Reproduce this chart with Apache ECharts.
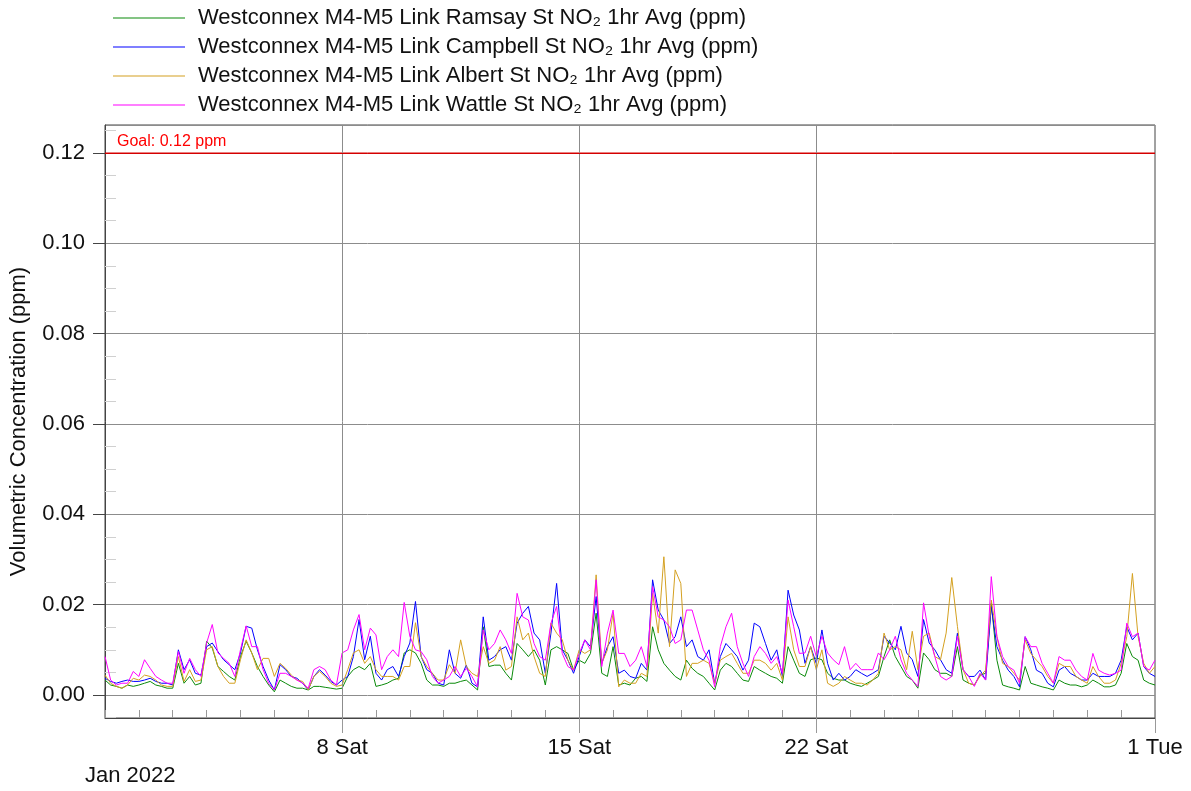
<!DOCTYPE html>
<html>
<head>
<meta charset="utf-8">
<script src="https://cdn.jsdelivr.net/npm/echarts@6/dist/echarts.min.js"></script>
<style>
html,body{margin:0;padding:0;background:#fff}
#chart{width:1191px;height:791px}
</style>
</head>
<body>
<div id="chart"></div>
<script>
// samples every 4 hours from 1 Jan 2022 00:00 to 1 Feb 2022 00:00
var stepHours = 4;
var seriesNames = [
	'Westconnex M4-M5 Link Ramsay St NO\u2082 1hr Avg (ppm)',
	'Westconnex M4-M5 Link Campbell St NO\u2082 1hr Avg (ppm)',
	'Westconnex M4-M5 Link Albert St NO\u2082 1hr Avg (ppm)',
	'Westconnex M4-M5 Link Wattle St NO\u2082 1hr Avg (ppm)'
];
var seriesColors = ['#0a8a0a', '#0000ff', '#d4a020', '#ff00ff'];

var ramsay = [
	0.0033,0.0022,0.0019,0.0015,0.0022,0.0019, 0.0022,0.0026,0.0030,0.0022,0.0019,0.0015,
	0.0015,0.0070,0.0026,0.0041,0.0022,0.0026, 0.0119,0.0104,0.0063,0.0052,0.0041,0.0033,
	0.0085,0.0119,0.0093,0.0063,0.0041,0.0022, 0.0007,0.0033,0.0026,0.0019,0.0015,0.0015,
	0.0011,0.0019,0.0019,0.0017,0.0015,0.0013, 0.0015,0.0041,0.0056,0.0063,0.0056,0.0070,
	0.0019,0.0022,0.0026,0.0033,0.0037,0.0093, 0.0100,0.0093,0.0070,0.0033,0.0022,0.0022,
	0.0019,0.0026,0.0026,0.0030,0.0033,0.0022, 0.0011,0.0151,0.0063,0.0066,0.0066,0.0048,
	0.0033,0.0114,0.0100,0.0085,0.0100,0.0077, 0.0022,0.0100,0.0107,0.0100,0.0092,0.0055,
	0.0077,0.0070,0.0092,0.0181,0.0048,0.0041, 0.0107,0.0022,0.0026,0.0022,0.0037,0.0041,
	0.0030,0.0151,0.0100,0.0070,0.0055,0.0041, 0.0033,0.0077,0.0059,0.0048,0.0041,0.0026,
	0.0011,0.0055,0.0070,0.0063,0.0048,0.0033, 0.0030,0.0063,0.0055,0.0048,0.0041,0.0037,
	0.0026,0.0107,0.0077,0.0048,0.0041,0.0078, 0.0082,0.0078,0.0048,0.0037,0.0033,0.0033,
	0.0026,0.0022,0.0019,0.0026,0.0033,0.0041, 0.0085,0.0122,0.0085,0.0063,0.0041,0.0033,
	0.0015,0.0093,0.0078,0.0056,0.0048,0.0048, 0.0041,0.0107,0.0033,0.0026,0.0022,0.0044,
	0.0048,0.0203,0.0077,0.0022,0.0018,0.0015, 0.0011,0.0063,0.0026,0.0022,0.0018,0.0015,
	0.0011,0.0033,0.0026,0.0022,0.0022,0.0018, 0.0022,0.0033,0.0026,0.0018,0.0018,0.0022,
	0.0048,0.0114,0.0085,0.0077,0.0033,0.0026, 0.0022
];
var campbell = [
	0.0037,0.0030,0.0026,0.0030,0.0033,0.0030, 0.0030,0.0033,0.0037,0.0030,0.0026,0.0026,
	0.0022,0.0100,0.0056,0.0078,0.0048,0.0044, 0.0107,0.0115,0.0096,0.0078,0.0067,0.0056,
	0.0093,0.0152,0.0148,0.0100,0.0063,0.0033, 0.0011,0.0067,0.0056,0.0041,0.0037,0.0026,
	0.0011,0.0041,0.0056,0.0044,0.0030,0.0022, 0.0033,0.0041,0.0085,0.0167,0.0078,0.0130,
	0.0048,0.0033,0.0056,0.0063,0.0041,0.0085, 0.0115,0.0207,0.0085,0.0056,0.0048,0.0026,
	0.0022,0.0100,0.0048,0.0037,0.0066,0.0026, 0.0018,0.0173,0.0077,0.0085,0.0100,0.0107,
	0.0077,0.0159,0.0181,0.0196,0.0137,0.0122, 0.0048,0.0137,0.0247,0.0100,0.0077,0.0048,
	0.0085,0.0122,0.0107,0.0218,0.0070,0.0107, 0.0129,0.0048,0.0055,0.0041,0.0037,0.0070,
	0.0055,0.0255,0.0188,0.0166,0.0114,0.0129, 0.0173,0.0107,0.0122,0.0085,0.0077,0.0100,
	0.0026,0.0085,0.0114,0.0100,0.0085,0.0055, 0.0077,0.0159,0.0151,0.0114,0.0077,0.0100,
	0.0041,0.0232,0.0177,0.0144,0.0070,0.0107, 0.0070,0.0144,0.0070,0.0033,0.0048,0.0033,
	0.0041,0.0056,0.0048,0.0041,0.0048,0.0056, 0.0130,0.0115,0.0100,0.0152,0.0093,0.0078,
	0.0041,0.0167,0.0115,0.0100,0.0078,0.0056, 0.0048,0.0137,0.0056,0.0041,0.0041,0.0055,
	0.0033,0.0196,0.0107,0.0077,0.0055,0.0041, 0.0018,0.0129,0.0100,0.0055,0.0048,0.0026,
	0.0018,0.0055,0.0063,0.0048,0.0041,0.0033, 0.0033,0.0048,0.0041,0.0041,0.0041,0.0048,
	0.0077,0.0151,0.0122,0.0137,0.0063,0.0048, 0.0041
];
var albert = [
	0.0044,0.0026,0.0019,0.0015,0.0022,0.0037, 0.0033,0.0044,0.0041,0.0033,0.0022,0.0019,
	0.0019,0.0085,0.0030,0.0056,0.0030,0.0033, 0.0100,0.0107,0.0063,0.0041,0.0026,0.0026,
	0.0078,0.0122,0.0093,0.0056,0.0081,0.0081, 0.0041,0.0070,0.0059,0.0044,0.0033,0.0030,
	0.0011,0.0041,0.0052,0.0041,0.0026,0.0019, 0.0022,0.0056,0.0093,0.0100,0.0070,0.0085,
	0.0056,0.0041,0.0041,0.0041,0.0033,0.0063, 0.0063,0.0160,0.0085,0.0063,0.0048,0.0033,
	0.0033,0.0067,0.0048,0.0122,0.0063,0.0048, 0.0041,0.0107,0.0070,0.0077,0.0107,0.0055,
	0.0063,0.0173,0.0122,0.0137,0.0085,0.0048, 0.0041,0.0159,0.0137,0.0122,0.0077,0.0055,
	0.0100,0.0092,0.0100,0.0266,0.0070,0.0100, 0.0181,0.0018,0.0033,0.0026,0.0026,0.0048,
	0.0041,0.0225,0.0137,0.0306,0.0107,0.0277, 0.0247,0.0041,0.0070,0.0070,0.0077,0.0070,
	0.0026,0.0077,0.0085,0.0092,0.0070,0.0048, 0.0048,0.0077,0.0077,0.0070,0.0055,0.0070,
	0.0033,0.0173,0.0100,0.0063,0.0063,0.0107, 0.0056,0.0100,0.0026,0.0019,0.0026,0.0041,
	0.0033,0.0026,0.0026,0.0022,0.0033,0.0048, 0.0137,0.0100,0.0107,0.0100,0.0056,0.0141,
	0.0056,0.0130,0.0137,0.0085,0.0078,0.0137, 0.0260,0.0152,0.0056,0.0026,0.0022,0.0041,
	0.0055,0.0210,0.0129,0.0070,0.0063,0.0048, 0.0033,0.0122,0.0092,0.0077,0.0063,0.0041,
	0.0026,0.0070,0.0063,0.0063,0.0041,0.0033, 0.0026,0.0063,0.0041,0.0026,0.0026,0.0033,
	0.0070,0.0129,0.0269,0.0129,0.0070,0.0048, 0.0063
];
var wattle = [
	0.0085,0.0033,0.0022,0.0026,0.0026,0.0052, 0.0041,0.0078,0.0059,0.0041,0.0033,0.0026,
	0.0026,0.0096,0.0048,0.0081,0.0056,0.0041, 0.0115,0.0156,0.0093,0.0081,0.0070,0.0041,
	0.0100,0.0153,0.0107,0.0107,0.0056,0.0026, 0.0011,0.0048,0.0048,0.0041,0.0033,0.0026,
	0.0015,0.0056,0.0063,0.0056,0.0033,0.0022, 0.0093,0.0100,0.0144,0.0178,0.0100,0.0148,
	0.0133,0.0056,0.0085,0.0100,0.0085,0.0205, 0.0130,0.0100,0.0096,0.0078,0.0041,0.0026,
	0.0033,0.0041,0.0063,0.0041,0.0059,0.0041, 0.0018,0.0144,0.0100,0.0114,0.0144,0.0122,
	0.0092,0.0225,0.0173,0.0166,0.0114,0.0085, 0.0077,0.0159,0.0196,0.0092,0.0063,0.0055,
	0.0092,0.0122,0.0100,0.0255,0.0063,0.0137, 0.0188,0.0092,0.0092,0.0063,0.0077,0.0107,
	0.0063,0.0240,0.0173,0.0166,0.0151,0.0114, 0.0122,0.0188,0.0188,0.0144,0.0100,0.0077,
	0.0018,0.0107,0.0151,0.0181,0.0107,0.0070, 0.0041,0.0085,0.0107,0.0092,0.0070,0.0085,
	0.0048,0.0210,0.0151,0.0092,0.0093,0.0130, 0.0085,0.0130,0.0093,0.0078,0.0067,0.0107,
	0.0056,0.0070,0.0056,0.0056,0.0056,0.0093, 0.0078,0.0100,0.0130,0.0078,0.0048,0.0033,
	0.0019,0.0204,0.0130,0.0085,0.0041,0.0033, 0.0041,0.0130,0.0056,0.0041,0.0019,0.0048,
	0.0033,0.0262,0.0129,0.0085,0.0063,0.0055, 0.0026,0.0129,0.0107,0.0107,0.0070,0.0048,
	0.0026,0.0085,0.0077,0.0077,0.0055,0.0041, 0.0033,0.0092,0.0055,0.0048,0.0044,0.0048,
	0.0055,0.0159,0.0129,0.0137,0.0063,0.0055, 0.0077
];
var weekLines = [168, 336, 504];          // 8 Sat, 15 Sat, 22 Sat
var labelHours = [168, 336, 504, 744];    // 8 Sat, 15 Sat, 22 Sat, 1 Tue
var goal = 0.12;
var goalSpan = [0, 744];

var startTime = Date.UTC(2022, 0, 1);
var dayNames = ['Sun','Mon','Tue','Wed','Thu','Fri','Sat'];
var font = 'Liberation Sans';

function pairs(arr){
	var out = [];
	arr.forEach(function(v, i){
		out.push([i * stepHours, v]);
	});
	return out;
}

var allData = [ramsay, campbell, albert, wattle];
var series = [];
// weekly gridlines
series.push({
	type: 'line',
	data: [],
	silent: true,
	markLine: {
		symbol: 'none',
		silent: true,
		animation: false,
		lineStyle: {color: '#8c8c8c', width: 1, type: 'solid'},
		label: {show: false},
		data: weekLines.map(function(h){ return {xAxis: h}; })
	}
});
allData.forEach(function(arr, i){
	series.push({
		name: seriesNames[i],
		type: 'line',
		data: pairs(arr),
		showSymbol: false,
		symbol: 'none',
		animation: false,
		z: 3,
		lineStyle: {color: seriesColors[i], width: 1},
		itemStyle: {color: seriesColors[i]}
	});
});
// goal line
series.push({
	type: 'line',
	data: goalSpan.map(function(h){ return [h, goal]; }),
	silent: true,
	showSymbol: false,
	symbol: 'none',
	z: 4,
	lineStyle: {color: '#d40000', width: 1},
	markLine: {
		symbol: 'none',
		silent: true,
		animation: false,
		lineStyle: {color: '#d40000', width: 1, type: 'solid'},
		label: {show: true, position: 'insideStartTop', formatter: 'Goal: 0.12 ppm',
			color: '#ff0000', fontSize: 16, fontFamily: font, distance: [12, 3]},
		data: [{yAxis: goal}]
	}
});

var myChart = echarts.init(document.getElementById('chart'));
var option = {
	animation: false,
	color: ['#8c8c8c'].concat(seriesColors),
	textStyle: {fontFamily: font},
	legend: {
		orient: 'vertical',
		left: 108,
		top: 2,
		itemWidth: 72,
		itemHeight: 1,
		itemGap: 7,
		icon: 'rect',
		data: seriesNames.map(function(n, i){
			return {name: n, itemStyle: {color: seriesColors[i]}};
		}),
		textStyle: {fontSize: 22, color: '#111', fontFamily: font, padding: [0, 0, 0, 8]}
	},
	graphic: [{
		type: 'text',
		left: 85,
		top: 765,
		style: {text: 'Jan 2022', fontSize: 22, fill: '#111', fontFamily: font}
	}],
	grid: {
		left: 105,
		right: 36,
		top: 125,
		bottom: 73,
		show: true,
		borderColor: '#444',
		borderWidth: 1
	},
	xAxis: [{
		type: 'value',
		min: 0,
		max: 744,
		interval: 24,
		axisLine: {show: true, onZero: false, lineStyle: {color: '#444', width: 1}},
		axisTick: {show: true, inside: true, length: 8, lineStyle: {color: '#999'}},
		axisLabel: {show: false},
		splitLine: {show: false}
	}, {
		type: 'value',
		min: 0,
		max: 744,
		interval: 24,
		position: 'bottom',
		axisLine: {show: false, onZero: false},
		axisTick: {show: true, inside: false, length: 15, customValues: labelHours, lineStyle: {color: '#999'}},
		axisLabel: {
			show: true,
			customValues: labelHours,
			margin: 19,
			fontSize: 22,
			color: '#111',
			fontFamily: font,
			formatter: function(h){
				var d = new Date(startTime + h * 3600000);
				return d.getUTCDate() + ' ' + dayNames[d.getUTCDay()];
			}
		},
		splitLine: {show: false}
	}],
	yAxis: [{
		type: 'value',
		min: -0.0051,
		max: 0.1262,
		splitNumber: 6,
		name: 'Volumetric Concentration (ppm)',
		nameLocation: 'middle',
		nameRotate: 90,
		nameGap: 75,
		nameTextStyle: {fontSize: 22, color: '#111', fontFamily: font},
		axisLine: {show: true, lineStyle: {color: '#444', width: 1}},
		axisTick: {show: true, inside: false, length: 12, lineStyle: {color: '#444'}},
		axisLabel: {
			fontSize: 22, color: '#111', margin: 20, fontFamily: font,
			showMinLabel: false, showMaxLabel: false,
			formatter: function(v){ return v.toFixed(2); }
		},
		splitLine: {show: true, lineStyle: {color: '#8c8c8c', width: 1}}
	}, {
		type: 'value',
		min: -0.0051,
		max: 0.1262,
		splitNumber: 6,
		position: 'left',
		axisLine: {show: false},
		axisTick: {show: false, inside: true},
		minorTick: {show: true, splitNumber: 4, length: 11, lineStyle: {color: '#d0d0d0'}},
		axisLabel: {show: false},
		splitLine: {show: false}
	}],
	series: series
};
myChart.setOption(option);
</script>
</body>
</html>
